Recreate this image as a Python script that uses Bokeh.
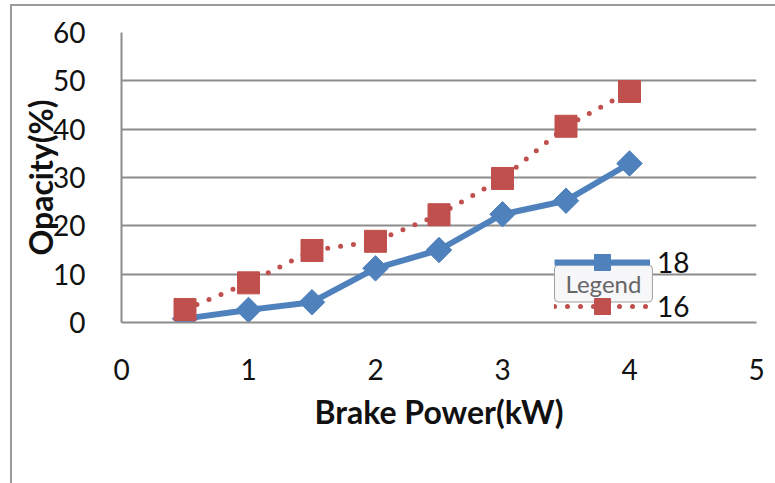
from bokeh.plotting import figure
from bokeh.models import Legend, LegendItem, Label, FixedTicker, Range1d
from bokeh.embed import file_html
from bokeh.resources import INLINE
import math

# Brake power (kW) and smoke opacity (%) for the two settings
brake_power = [0.5, 1.0, 1.5, 2.0, 2.5, 3.0, 3.5, 4.0]
opacity_18 = [0.8, 2.6, 4.2, 11.2, 15.0, 22.4, 25.2, 32.9]
opacity_16 = [2.7, 8.2, 14.9, 16.8, 22.3, 29.8, 40.6, 47.8]
series_names = ["18", "16"]
x_ticks = [0, 1, 2, 3, 4, 5]
y_ticks = [0, 10, 20, 30, 40, 50, 60]

BLUE = "#4F81BD"
RED = "#C0504D"
GRID = "#8c8c8c"
FONT = "Lato"

p = figure(width=775, height=483, output_backend="svg", toolbar_location=None,
           x_range=Range1d(0, 5), y_range=Range1d(0, 60),
           min_border_left=121, min_border_right=19, min_border_top=32, min_border_bottom=161)
p.outline_line_color = None
p.background_fill_color = "white"
# transparent canvas border so the chart-area frame drawn by CSS shows through
p.border_fill_alpha = 0
p.styles = {
    "background": ("linear-gradient(#9a9a9a, #9a9a9a) 10px 5px / 2px 100% no-repeat, "
                   "linear-gradient(#9a9a9a, #9a9a9a) 10px 4px / 100% 2px no-repeat, white"),
}

# axes
for ax in (p.xaxis[0], p.yaxis[0]):
    ax.axis_line_color = GRID
    ax.axis_line_width = 2
    ax.major_tick_line_color = None
    ax.minor_tick_line_color = None
    ax.major_label_text_font = FONT
    ax.major_label_text_font_size = "28px"
    ax.major_label_text_color = "#111111"
    ax.axis_label_text_font = FONT
    ax.axis_label_text_font_style = "bold"
    ax.axis_label_text_font_size = "32px"
    ax.axis_label_text_color = "#111111"
p.xaxis.ticker = FixedTicker(ticks=x_ticks)
p.yaxis.ticker = FixedTicker(ticks=y_ticks)
p.xaxis.major_label_standoff = 30
p.yaxis.major_label_standoff = 30
p.xaxis.axis_label = "Brake Power(kW)"
p.yaxis.axis_label = "Opacity(%)"
p.xaxis.axis_label_standoff = 9
p.yaxis.axis_label_standoff = -10

p.xgrid.grid_line_color = None
p.ygrid.grid_line_color = GRID
p.ygrid.grid_line_width = 2
p.ygrid.ticker = FixedTicker(ticks=y_ticks)

# series 18: solid line with diamonds
l18 = p.line(brake_power, opacity_18, line_color=BLUE, line_width=6)
m18 = p.scatter(brake_power, opacity_18, marker="square", angle=math.pi / 4, size=18,
                fill_color=BLUE, line_color=BLUE)
# series 16: dotted line with squares
l16 = p.line(brake_power, opacity_16, line_color=RED, line_width=5, line_dash="0 13", line_cap="round")
m16 = p.scatter(brake_power, opacity_16, marker="square", size=22, fill_color=RED, line_color=RED)

legend = Legend(items=[LegendItem(label=series_names[0], renderers=[l18, m18]),
                       LegendItem(label=series_names[1], renderers=[l16, m16])],
                location=(433, -4), glyph_width=96, glyph_height=40, spacing=4,
                padding=0, margin=0, label_standoff=7,
                label_text_font=FONT, label_text_font_size="28px", label_text_color="#111111",
                background_fill_alpha=0, border_line_alpha=0)
p.add_layout(legend)

# hover hint box over the legend
p.add_layout(Label(x=433, y=39, x_units="screen", y_units="screen", text="Legend",
                   text_font=FONT, text_font_size="24px", text_color="#666666",
                   text_baseline="middle", padding=(11, 4), border_radius=4,
                   background_fill_color="#f7f7fa", border_line_color="#a0a0a0", border_line_width=1))

open("out.html", "w").write(file_html(p, INLINE))
